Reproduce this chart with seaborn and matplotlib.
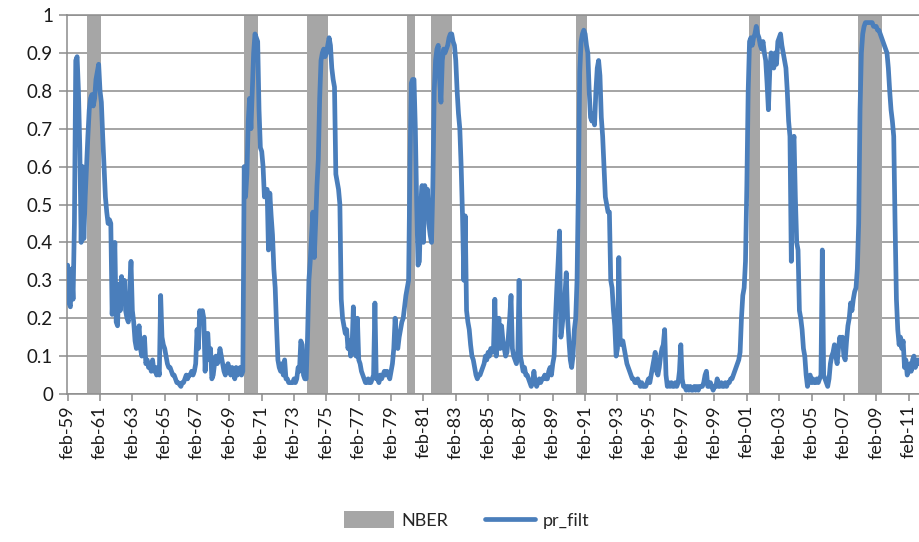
import numpy as np
import pandas as pd
import matplotlib
matplotlib.use("Agg")
import matplotlib.pyplot as plt
import seaborn as sns
from matplotlib.patches import Patch
from matplotlib.lines import Line2D

# ---------------- data ----------------
series_start = "1959-02"  # first month of pr_filt (monthly)

pr_filt = [
    0.34, 0.24, 0.23, 0.33, 0.25, 0.45, 0.88, 0.89, 0.80, 0.65,   # m0
    0.40, 0.60, 0.41, 0.52, 0.60, 0.68, 0.75, 0.78, 0.79, 0.76,   # m10
    0.78, 0.83, 0.85, 0.87, 0.80, 0.77, 0.68, 0.60, 0.52, 0.48,   # m20
    0.45, 0.46, 0.45, 0.21, 0.30, 0.40, 0.19, 0.18, 0.29, 0.22,   # m30
    0.31, 0.24, 0.30, 0.22, 0.20, 0.19, 0.28, 0.35, 0.22, 0.19,   # m40
    0.14, 0.12, 0.15, 0.18, 0.12, 0.10, 0.14, 0.15, 0.08, 0.09,   # m50
    0.07, 0.08, 0.06, 0.09, 0.06, 0.07, 0.05, 0.07, 0.05, 0.26,   # m60
    0.15, 0.13, 0.12, 0.10, 0.08, 0.07, 0.07, 0.06, 0.05, 0.05,   # m70
    0.04, 0.03, 0.03, 0.025, 0.02, 0.03, 0.03, 0.04, 0.05, 0.04,  # m80
    0.05, 0.05, 0.06, 0.05, 0.06, 0.08, 0.17, 0.12, 0.22, 0.19,   # m90
    0.22, 0.20, 0.06, 0.15, 0.16, 0.09, 0.12, 0.04, 0.05, 0.08,   # m100
    0.10, 0.08, 0.09, 0.12, 0.10, 0.08, 0.06, 0.05, 0.07, 0.08,   # m110
    0.06, 0.05, 0.07, 0.06, 0.04, 0.07, 0.05, 0.06, 0.07, 0.05,   # m120
    0.06, 0.60, 0.52, 0.58, 0.72, 0.78, 0.70, 0.80, 0.90, 0.95,   # m130
    0.94, 0.93, 0.75, 0.65, 0.64, 0.60, 0.52, 0.53, 0.54, 0.38,   # m140
    0.53, 0.47, 0.42, 0.33, 0.28, 0.18, 0.09, 0.07, 0.06, 0.08,   # m150
    0.05, 0.09, 0.04, 0.04, 0.03, 0.03, 0.03, 0.03, 0.04, 0.03,   # m160
    0.04, 0.07, 0.06, 0.14, 0.13, 0.05, 0.04, 0.04, 0.15, 0.30,   # m170
    0.35, 0.42, 0.48, 0.36, 0.45, 0.55, 0.62, 0.78, 0.88, 0.90,   # m180
    0.91, 0.89, 0.90, 0.92, 0.94, 0.92, 0.86, 0.83, 0.81, 0.58,   # m190
    0.56, 0.54, 0.50, 0.25, 0.20, 0.18, 0.16, 0.17, 0.12, 0.14,   # m200
    0.10, 0.12, 0.23, 0.12, 0.10, 0.20, 0.09, 0.08, 0.06, 0.05,   # m210
    0.04, 0.03, 0.03, 0.04, 0.03, 0.03, 0.04, 0.05, 0.24, 0.04,   # m220
    0.04, 0.03, 0.05, 0.04, 0.05, 0.06, 0.05, 0.06, 0.05, 0.04,   # m230
    0.06, 0.08, 0.12, 0.20, 0.13, 0.12, 0.15, 0.17, 0.19, 0.20,   # m240
    0.23, 0.26, 0.28, 0.30, 0.60, 0.82, 0.83, 0.83, 0.70, 0.50,   # m250
    0.34, 0.35, 0.50, 0.55, 0.40, 0.55, 0.50, 0.54, 0.45, 0.42,   # m260
    0.40, 0.55, 0.80, 0.88, 0.91, 0.92, 0.83, 0.77, 0.88, 0.91,   # m270
    0.90, 0.91, 0.92, 0.94, 0.95, 0.95, 0.93, 0.92, 0.88, 0.80,   # m280
    0.74, 0.70, 0.60, 0.47, 0.30, 0.47, 0.22, 0.19, 0.17, 0.13,   # m290
    0.10, 0.09, 0.07, 0.05, 0.04, 0.05, 0.05, 0.06, 0.07, 0.08,   # m300
    0.10, 0.09, 0.11, 0.10, 0.12, 0.11, 0.12, 0.25, 0.10, 0.14,   # m310
    0.20, 0.12, 0.18, 0.14, 0.12, 0.10, 0.11, 0.15, 0.20, 0.26,   # m320
    0.12, 0.10, 0.09, 0.08, 0.10, 0.30, 0.10, 0.08, 0.06, 0.07,   # m330
    0.05, 0.05, 0.04, 0.03, 0.02, 0.03, 0.06, 0.03, 0.02, 0.03,   # m340
    0.04, 0.03, 0.04, 0.04, 0.05, 0.04, 0.04, 0.06, 0.07, 0.05,   # m350
    0.08, 0.10, 0.20, 0.28, 0.35, 0.43, 0.15, 0.18, 0.22, 0.26,   # m360
    0.32, 0.20, 0.14, 0.09, 0.07, 0.10, 0.17, 0.20, 0.30, 0.55,   # m370
    0.85, 0.93, 0.95, 0.96, 0.95, 0.92, 0.90, 0.80, 0.73, 0.72,   # m380
    0.74, 0.71, 0.80, 0.86, 0.88, 0.84, 0.73, 0.68, 0.60, 0.52,   # m390
    0.50, 0.48, 0.48, 0.30, 0.28, 0.22, 0.18, 0.10, 0.12, 0.36,   # m400
    0.14, 0.13, 0.14, 0.12, 0.10, 0.08, 0.07, 0.06, 0.05, 0.04,   # m410
    0.04, 0.03, 0.03, 0.04, 0.03, 0.02, 0.03, 0.02, 0.02, 0.02,   # m420
    0.03, 0.04, 0.03, 0.05, 0.07, 0.09, 0.11, 0.06, 0.05, 0.07,   # m430
    0.10, 0.12, 0.13, 0.17, 0.05, 0.02, 0.03, 0.02, 0.03, 0.02,   # m440
    0.02, 0.03, 0.02, 0.03, 0.06, 0.13, 0.04, 0.02, 0.02, 0.01,   # m450
    0.02, 0.01, 0.02, 0.01, 0.01, 0.02, 0.01, 0.02, 0.01, 0.02,   # m460
    0.02, 0.02, 0.03, 0.05, 0.06, 0.02, 0.02, 0.03, 0.02, 0.01,   # m470
    0.02, 0.02, 0.04, 0.02, 0.02, 0.03, 0.02, 0.02, 0.03, 0.02,   # m480
    0.03, 0.03, 0.04, 0.04, 0.05, 0.06, 0.07, 0.08, 0.09, 0.11,   # m490
    0.20, 0.26, 0.28, 0.35, 0.55, 0.80, 0.93, 0.94, 0.92, 0.94,   # m500
    0.95, 0.97, 0.95, 0.94, 0.92, 0.91, 0.93, 0.90, 0.88, 0.82,   # m510
    0.75, 0.85, 0.90, 0.88, 0.86, 0.90, 0.87, 0.93, 0.94, 0.95,   # m520
    0.92, 0.90, 0.88, 0.86, 0.80, 0.72, 0.68, 0.35, 0.65, 0.68,   # m530
    0.52, 0.40, 0.38, 0.22, 0.20, 0.17, 0.12, 0.10, 0.05, 0.02,   # m540
    0.04, 0.05, 0.03, 0.04, 0.03, 0.03, 0.04, 0.03, 0.04, 0.05,   # m550
    0.38, 0.05, 0.04, 0.03, 0.02, 0.04, 0.08, 0.10, 0.11, 0.13,   # m560
    0.10, 0.08, 0.12, 0.15, 0.13, 0.15, 0.10, 0.09, 0.14, 0.18,   # m570
    0.20, 0.24, 0.22, 0.25, 0.27, 0.28, 0.33, 0.45, 0.75, 0.90,   # m580
    0.95, 0.97, 0.98, 0.98, 0.98, 0.98, 0.98, 0.98, 0.97, 0.97,   # m590
    0.97, 0.96, 0.96, 0.95, 0.94, 0.93, 0.92, 0.91, 0.90, 0.86,   # m600
    0.80, 0.75, 0.72, 0.68, 0.45, 0.25, 0.17, 0.13, 0.15, 0.12,   # m610
    0.14, 0.07, 0.09, 0.05, 0.06, 0.08, 0.06, 0.09, 0.10, 0.07,   # m620
    0.08, 0.09, 0.08,                                             # m630
]

# NBER recession months (first and last shaded month)
nber_start = ["1960-05", "1970-01", "1973-12", "1980-02", "1981-08", "1990-08", "2001-04", "2008-01"]
nber_end   = ["1961-02", "1970-11", "1975-03", "1980-07", "1982-11", "1991-03", "2001-11", "2009-06"]

tick_labels = ["feb-59", "feb-61", "feb-63", "feb-65", "feb-67", "feb-69", "feb-71",
               "feb-73", "feb-75", "feb-77", "feb-79", "feb-81", "feb-83", "feb-85",
               "feb-87", "feb-89", "feb-91", "feb-93", "feb-95", "feb-97", "feb-99",
               "feb-01", "feb-03", "feb-05", "feb-07", "feb-09", "feb-11"]
y_ticks = [0, 0.1, 0.2, 0.3, 0.4, 0.5, 0.6, 0.7, 0.8, 0.9, 1.0]
y_tick_labels = ["0", "0.1", "0.2", "0.3", "0.4", "0.5", "0.6", "0.7", "0.8", "0.9", "1"]

# ---------------- style ----------------
BLUE = "#4A7EBB"
GRAY = "#A6A6A6"
GRID = "#8C8C8C"

sns.set_style("white")
plt.rcParams["font.family"] = ["Lato", "DejaVu Sans"]

W, H = 920, 542
fig = plt.figure(figsize=(W / 100, H / 100), dpi=100)
ax = fig.add_axes([67 / W, 1 - 394 / H, 1 - 67 / W, (394 - 15) / H])

sy, sm = map(int, series_start.split("-"))


def month_index(s):
    y, m = map(int, s.split("-"))
    return (y - sy) * 12 + (m - sm)


for s, e in zip(nber_start, nber_end):
    ax.axvspan(month_index(s) - 0.5, month_index(e) + 0.5, color=GRAY, lw=0, zorder=1)

df = pd.DataFrame({"month": np.arange(len(pr_filt)), "pr_filt": pr_filt})
sns.lineplot(data=df, x="month", y="pr_filt", color=BLUE, linewidth=3.4, ax=ax, zorder=3)
for ln in ax.lines:
    ln.set_solid_joinstyle("round")
    ln.set_solid_capstyle("round")

n = len(pr_filt)
ax.set_xlim(-0.5, n - 0.5)
ax.set_ylim(0, 1)
ax.set_xlabel("")
ax.set_ylabel("")

ax.set_yticks(y_ticks)
ax.set_yticklabels(y_tick_labels, fontsize=13.5, color="#1a1a1a")
ax.set_xticks(np.arange(0, 24 * len(tick_labels), 24))
ax.set_xticklabels(tick_labels, rotation=90, fontsize=13, color="#1a1a1a")

ax.yaxis.grid(True, color=GRID, linewidth=1.1, zorder=0)
ax.xaxis.grid(False)
ax.set_axisbelow(True)

ax.spines["right"].set_visible(False)
for side in ["top", "left", "bottom"]:
    ax.spines[side].set_color(GRID)
    ax.spines[side].set_linewidth(1.1)

ax.tick_params(axis="y", which="major", direction="out", length=6, width=1.1, color=GRID, pad=4, left=True)
ax.tick_params(axis="x", which="major", direction="out", length=5, width=1.1, color=GRID, pad=3, bottom=True)

handles = [Patch(facecolor=GRAY, edgecolor="none", label="NBER"),
           Line2D([], [], color=BLUE, linewidth=3.4, label="pr_filt")]
fig.legend(handles=handles, loc="center", bbox_to_anchor=(0.507, 1 - 520 / H), ncol=2,
           frameon=False, fontsize=13, handlelength=2.8, handletextpad=0.4,
           columnspacing=2.0, handleheight=1.0)

fig.savefig("out.png", dpi=100)
